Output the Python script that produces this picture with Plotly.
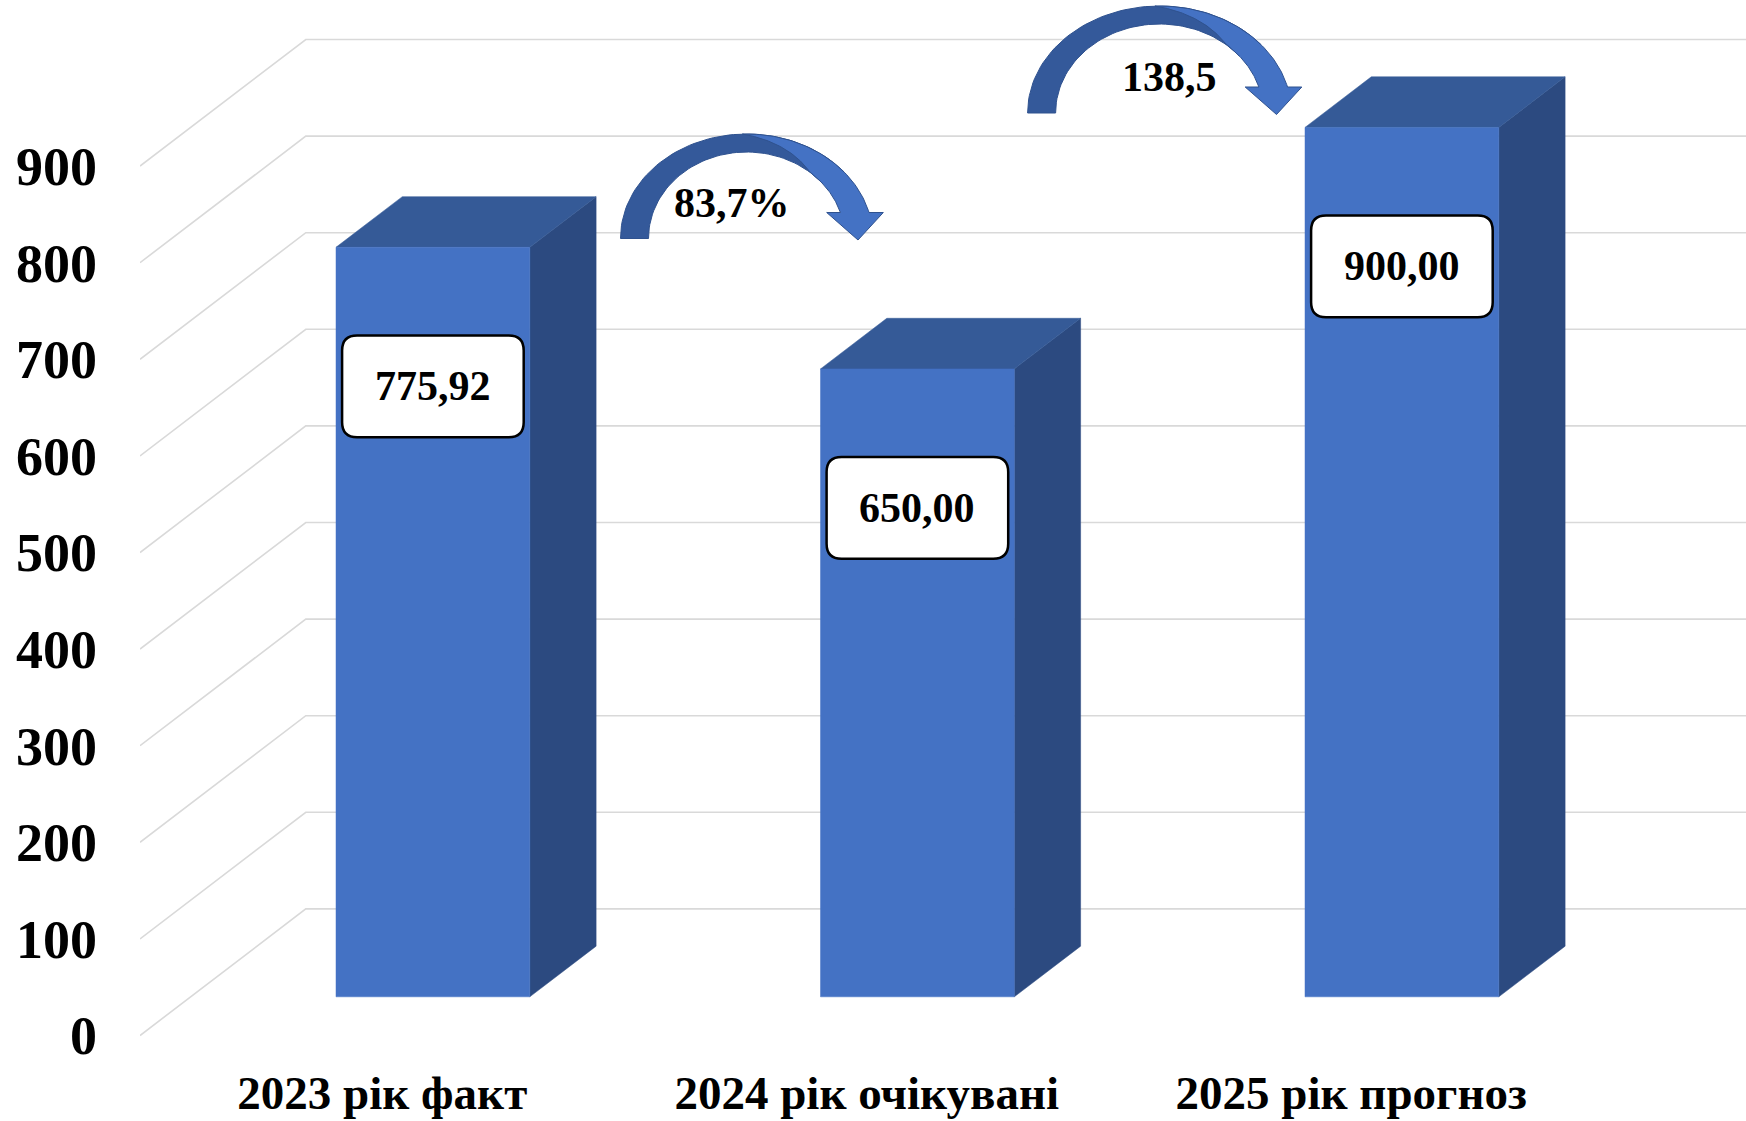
import math
import plotly.graph_objects as go

# ---------------- data ----------------
categories = ["2023 рік факт", "2024 рік очікувані", "2025 рік прогноз"]
values = [775.92, 650.00, 900.00]
value_labels = ["775,92", "650,00", "900,00"]
y_ticks = [0, 100, 200, 300, 400, 500, 600, 700, 800, 900]
growth_labels = ["83,7%", "138,5"]

# ---------------- layout / style constants ----------------
FIG_W, FIG_H = 1746, 1121
M_L, M_B = 140, 60
CAT_PX = 484.5          # pixels per category
UNIT_PX = 0.966         # pixels per value unit
Y_FRONT0_PX = 1035.5    # pixel row of value 0 on the front plane
X0 = -0.5
X1 = X0 + (FIG_W - M_L) / CAT_PX
Y0 = -(FIG_H - M_B - Y_FRONT0_PX) / UNIT_PX
Y1 = Y_FRONT0_PX / UNIT_PX
DX = 165.8 / CAT_PX     # depth shift (x) of back wall
DY = 126.6 / UNIT_PX    # depth shift (y) of back wall
BAR_W = 0.4
Z0, Z1 = 0.3055, 0.7055
LABEL_DROP_PX = 139
BOX_W_PX, BOX_H_PX, BOX_R_PX = 181.6, 101.7, 15

C_FRONT = "#4472C4"
C_TOP = "#355A97"
C_SIDE = "#2C4A80"
C_GRID = "#D9D9D9"
C_ARROW_DARK = "#34599A"
C_ARROW_LIGHT = "#4472C4"
C_ARROW_LINE = "#2F528F"
FONT = "Liberation Serif"


def px2x(px):
    return X0 + (px - M_L) / CAT_PX


def py2y(py):
    return (Y_FRONT0_PX - py) / UNIT_PX


def proj(x, v, z):
    return x + z * DX, v + z * DY


fig = go.Figure()

# ---------------- gridlines (floor diagonal + back wall) ----------------
gx, gy = [], []
for v in y_ticks:
    gx += [X0, X0 + DX, X1 + 0.5, None]
    gy += [v, v + DY, v + DY, None]
fig.add_trace(go.Scatter(x=gx, y=gy, mode="lines",
                         line=dict(color=C_GRID, width=1.6),
                         hoverinfo="skip", showlegend=False))

# ---------------- 3D bars ----------------
for i, v in enumerate(values):
    xl, xr = i - BAR_W / 2, i + BAR_W / 2
    faces = []
    p = [proj(xr, 0, Z0), proj(xr, 0, Z1), proj(xr, v, Z1), proj(xr, v, Z0)]
    faces.append((p, C_SIDE))
    p = [proj(xl, v, Z0), proj(xl, v, Z1), proj(xr, v, Z1), proj(xr, v, Z0)]
    faces.append((p, C_TOP))
    p = [proj(xl, 0, Z0), proj(xr, 0, Z0), proj(xr, v, Z0), proj(xl, v, Z0)]
    faces.append((p, C_FRONT))
    for pts, col in faces:
        xs = [q[0] for q in pts] + [pts[0][0]]
        ys = [q[1] for q in pts] + [pts[0][1]]
        fig.add_trace(go.Scatter(x=xs, y=ys, mode="lines", fill="toself",
                                 fillcolor=col, line=dict(color=col, width=0.5),
                                 hoverinfo="skip", showlegend=False))

# ---------------- data labels (rounded boxes) ----------------
shapes = []
annotations = []
for i, (v, lab) in enumerate(zip(values, value_labels)):
    cx, top = proj(i, v, Z0)
    cy = top - LABEL_DROP_PX / UNIT_PX
    w = BOX_W_PX / CAT_PX
    h = BOX_H_PX / UNIT_PX
    rx = BOX_R_PX / CAT_PX
    ry = BOX_R_PX / UNIT_PX
    x0, x1 = cx - w / 2, cx + w / 2
    y0, y1 = cy - h / 2, cy + h / 2
    path = (f"M {x0+rx},{y0} L {x1-rx},{y0} Q {x1},{y0} {x1},{y0+ry} "
            f"L {x1},{y1-ry} Q {x1},{y1} {x1-rx},{y1} L {x0+rx},{y1} "
            f"Q {x0},{y1} {x0},{y1-ry} L {x0},{y0+ry} Q {x0},{y0} {x0+rx},{y0} Z")
    shapes.append(dict(type="path", path=path, xref="x", yref="y",
                       fillcolor="white", line=dict(color="black", width=2.5),
                       layer="above"))
    annotations.append(dict(x=cx, y=cy, xref="x", yref="y", text=lab,
                            showarrow=False,
                            font=dict(family=FONT, size=42, color="black", weight="bold")))

# ---------------- curved growth arrows ----------------
ARROWS = [  # left-foot outer x, base y, arrowhead centre x, outer height (pixels)
    dict(xl=620.5, yb=238.5, xc=855.0, ry=104.5, tx=731.7, ty=203.3),
    dict(xl=1027.6, yb=113.0, xc=1273.5, ry=107.0, tx=1169.5, ty=77.3),
]
T_SIDE, T_TOP, WING_DY, WING_HALF = 28.0, 18.0, 26.0, 28.3


def ell(cx, cy, rx, ry, th):
    r = math.radians(th)
    return cx + rx * math.cos(r), cy - ry * math.sin(r)


for a, lab in zip(ARROWS, growth_labels):
    xl, yb, xc, ry = a["xl"], a["yb"], a["xc"], a["ry"]
    s = math.sqrt(1 - (WING_DY / ry) ** 2)
    rx = (xc + T_SIDE / 2 - xl) / (1 + s)
    cx = xl + rx
    rxi, ryi = rx - T_SIDE, ry - T_TOP
    th_o = math.degrees(math.asin(WING_DY / ry))
    th_i = math.degrees(math.asin(WING_DY / ryi))
    n = 60
    dark = [ell(cx, yb, rx, ry, 180 - (180 - 40) * k / n) for k in range(n + 1)]
    dark += [ell(cx, yb, rxi, ryi, 40 + (180 - 40) * k / n) for k in range(n + 1)]
    light = [ell(cx, yb, rx, ry, 92 - (92 - th_o) * k / n) for k in range(n + 1)]
    light += [(xc + WING_HALF, yb - WING_DY), (xc + 3, yb + 1.5), (xc - WING_HALF, yb - WING_DY)]
    light += [ell(cx, yb, rxi, ryi, th_i + (50 - th_i) * k / n) for k in range(n + 1)]
    for k in range(n + 1):
        th = 50 + (92 - 50) * k / n
        f = (92 - th) / (92 - 50)
        light.append(ell(cx, yb, rx - T_SIDE * f, ry - T_TOP * f, th))
    for pts, col in ((dark, C_ARROW_DARK), (light, C_ARROW_LIGHT)):
        xs = [px2x(p[0]) for p in pts] + [px2x(pts[0][0])]
        ys = [py2y(p[1]) for p in pts] + [py2y(pts[0][1])]
        fig.add_trace(go.Scatter(x=xs, y=ys, mode="lines", fill="toself",
                                 fillcolor=col, line=dict(color=C_ARROW_LINE, width=1),
                                 hoverinfo="skip", showlegend=False))
    annotations.append(dict(x=px2x(a["tx"]), y=py2y(a["ty"]), xref="x", yref="y",
                            text=lab, showarrow=False,
                            font=dict(family=FONT, size=42, color="black", weight="bold")))

fig.update_layout(
    width=FIG_W, height=FIG_H,
    margin=dict(l=M_L, r=0, t=0, b=M_B, autoexpand=False),
    paper_bgcolor="white", plot_bgcolor="white",
    showlegend=False,
    shapes=shapes, annotations=annotations,
    xaxis=dict(range=[X0, X1], tickmode="array", tickvals=list(range(len(categories))),
               ticktext=categories, showgrid=False, zeroline=False, showline=False,
               automargin=False, ticks="", ticklabelstandoff=0,
               tickfont=dict(family=FONT, size=47, color="black", weight="bold")),
    yaxis=dict(range=[Y0, Y1], tickmode="array", tickvals=y_ticks,
               ticktext=[str(t) for t in y_ticks], showgrid=False, zeroline=False,
               showline=False, automargin=False, ticks="", ticklabelstandoff=42,
               tickfont=dict(family=FONT, size=54, color="black", weight="bold")),
)

fig.write_html("out.html",
               config={"displayModeBar": False},
               post_script="document.body.style.margin='0';document.body.style.overflow='hidden';")
